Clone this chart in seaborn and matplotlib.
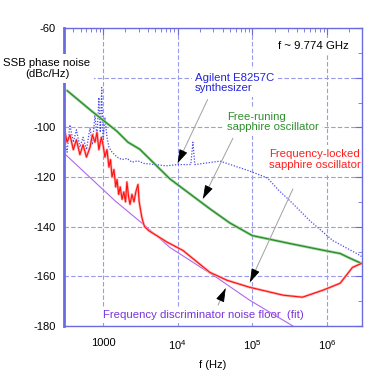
import numpy as np
import pandas as pd
import matplotlib
matplotlib.use("Agg")
import matplotlib.pyplot as plt
import seaborn as sns
from matplotlib.ticker import FixedLocator, FixedFormatter, LogLocator, MultipleLocator, NullFormatter

# ---------------- data ----------------
free_f = [330, 700, 1540, 2160, 3100, 7900, 14600, 27000, 50000, 100000, 320000,
          1000000, 1500000, 2000000, 2900000]
free_db = [-85.2, -93.4, -101.6, -106.0, -108.8, -120.8, -126.8, -132.8, -138.5,
           -143.6, -146.8, -149.8, -150.8, -152.6, -154.8]

synth_f = [300, 330, 360, 400, 440, 490, 540, 600, 670, 720, 780, 830, 880, 920, 960,
           1000, 1060, 1130, 1200, 1320, 1540, 1800, 2090, 2440, 2940, 3500, 5000,
           7000, 10000, 15000, 16000, 17000, 37000, 92000, 160000, 230000, 320000,
           590000, 1200000, 2500000, 2900000]
synth_db = [-103, -110, -99, -106, -101, -108, -104, -109, -100, -107, -95, -104, -88,
            -102, -84, -106, -96, -104, -108, -110, -112, -113, -112.5, -114, -113.5,
            -114.5, -115, -115.5, -115, -115, -106, -115, -113.6, -117.6, -120.4,
            -125.6, -129.6, -137.6, -145.6, -150.8, -152.0]

locked_f = [300, 330, 360, 400, 440, 490, 540, 600, 670, 720, 780, 830, 880, 950, 1000,
            1060, 1130, 1200, 1260, 1320, 1400, 1480, 1540, 1620, 1700, 1800, 1900,
            2000, 2090, 2200, 2300, 2440, 2600, 2750, 2940, 3050, 3130, 3300, 3430,
            3600, 4100, 5500, 7000, 11800, 27000, 46000, 92000, 260000, 470000,
            880000, 1500000, 2200000, 2900000]
locked_db = [-100, -106, -103, -109, -105, -111, -107, -112, -108, -103, -106, -102,
             -109, -104, -107, -112, -109, -116, -113, -120, -117, -124, -121, -127,
             -124, -129, -126, -130, -122, -128, -131, -127, -130, -126, -123, -130,
             -132, -136, -138, -140, -141.6, -144, -146, -149.6, -158.4, -161.6,
             -164.4, -167.6, -168.4, -165.6, -162.8, -156.4, -154.8]

floor_f = [300, 1450, 3650, 7900, 33000, 92000, 350000]
floor_db = [-110.4, -129.6, -139.6, -148.4, -160.4, -169.6, -180.0]

x_ticks = [1e3, 1e4, 1e5, 1e6]
x_tick_labels = ["1000", "$10^4$", "$10^5$", "$10^6$"]
y_ticks = [-180, -160, -140, -120, -100, -80, -60]
y_tick_labels = ["-180", "-160", "-140", "-120", "-100", "", "-60"]

# annotation arrows: (start f, start dB) -> (end f, end dB)
arrows = [((25200, -88.8), (10000, -114.4)),
          ((55000, -104.4), (21800, -128.8)),
          ((350000, -124.8), (93000, -162.4)),
          ((34700, -171.6), (44000, -164.8))]

# ---------------- style ----------------
sns.set_theme(style="white")
plt.rcParams["font.family"] = ["Liberation Sans", "DejaVu Sans"]
plt.rcParams["mathtext.fontset"] = "custom"
plt.rcParams["mathtext.rm"] = "Liberation Sans"
plt.rcParams["mathtext.it"] = "Liberation Sans:italic"

W, H = 374, 379
fig = plt.figure(figsize=(W / 100, H / 100), dpi=100)
fig.patch.set_facecolor("white")
L, R, T, B = 64, 362, 28, 326
ax = fig.add_axes([L / W, 1 - B / H, (R - L) / W, (B - T) / H])
ax.set_facecolor("white")

def px(x, y):
    return (x / W, 1 - y / H)

frame = "#6b6be0"
grid_c = "#9a9aea"

# ---------------- curves ----------------
dfree = pd.DataFrame({"f": free_f, "db": free_db})
dsyn = pd.DataFrame({"f": synth_f, "db": synth_db})
dlock = pd.DataFrame({"f": locked_f, "db": locked_db})
dfloor = pd.DataFrame({"f": floor_f, "db": floor_db})

sns.lineplot(data=dfloor, x="f", y="db", ax=ax, color="#b067f0", lw=0.8,
             estimator=None, sort=False, zorder=2)
sns.lineplot(data=dsyn, x="f", y="db", ax=ax, color="#4a4aee", lw=0.9,
             linestyle=(0, (1, 1.3)), estimator=None, sort=False, zorder=2.1)
sns.lineplot(data=dfree, x="f", y="db", ax=ax, color="#9fd49f", lw=2.0,
             estimator=None, sort=False, zorder=2.2)
sns.lineplot(data=dfree, x="f", y="db", ax=ax, color="#2a8a2a", lw=0.9,
             estimator=None, sort=False, zorder=2.3)
sns.lineplot(data=dlock, x="f", y="db", ax=ax, color="#ffa8a8", lw=1.8,
             estimator=None, sort=False, zorder=2.4)
sns.lineplot(data=dlock, x="f", y="db", ax=ax, color="#ff1010", lw=0.8,
             estimator=None, sort=False, zorder=2.5)

# ---------------- axes ----------------
ax.set_xscale("log")
ax.set_xlim(300, 2.95e6)
ax.set_ylim(-180, -60)
ax.xaxis.set_major_locator(FixedLocator(x_ticks))
ax.xaxis.set_major_formatter(FixedFormatter(x_tick_labels))
ax.xaxis.set_minor_locator(LogLocator(base=10, subs=np.arange(2, 10)))
ax.xaxis.set_minor_formatter(NullFormatter())
ax.yaxis.set_major_locator(FixedLocator(y_ticks))
ax.yaxis.set_major_formatter(FixedFormatter(y_tick_labels))
ax.yaxis.set_minor_locator(MultipleLocator(10))
ax.tick_params(which="both", direction="in", top=True, right=True, color=frame,
               labelsize=8, labelcolor="black")
ax.tick_params(which="major", length=5, width=0.8)
ax.tick_params(which="minor", length=3, width=0.6)
ax.tick_params(axis="x", pad=9)
ax.tick_params(axis="y", pad=6)
for s in ax.spines.values():
    s.set_color(frame)
    s.set_linewidth(1.0)
ax.spines["left"].set_linewidth(2.0)
ax.set_axisbelow(True)
ax.grid(True, which="major", color=grid_c, linestyle=(0, (4, 2)), lw=0.8)
ax.set_xlabel("f (Hz)", fontsize=8, color="black")
ax.set_ylabel("")
ax.xaxis.set_label_coords(0.5, -(365 - B) / (B - T))
ax.xaxis.label.set_va("center")

# ---------------- arrows ----------------
fig.canvas.draw()
for (s, e) in arrows:
    ax.annotate("", xy=e, xytext=s, xycoords="data", textcoords="data",
                arrowprops=dict(arrowstyle="-", color="#a0a0a0", lw=0.7,
                                shrinkA=0, shrinkB=0), zorder=3)
    ps = ax.transData.transform(s)
    pe = ax.transData.transform(e)
    d = (pe - ps) / np.hypot(*(pe - ps))
    ax.annotate("", xy=e, xycoords="data",
                xytext=(-d[0] * 8, -d[1] * 8), textcoords="offset pixels",
                arrowprops=dict(arrowstyle="-|>,head_length=0.7,head_width=0.22",
                                color="black", lw=0.6, shrinkA=0, shrinkB=0),
                zorder=3.1)

# ---------------- texts ----------------
box = dict(facecolor="white", edgecolor="none", pad=2.5)
fs = 8.2
ax.text(*px(313, 46), "f ~ 9.774 GHz", transform=fig.transFigure, fontsize=fs,
        ha="center", va="center", color="black", bbox=box, zorder=1.5)
ax.text(*px(195, 83), "Agilent E8257C\nsynthesizer", transform=fig.transFigure,
        fontsize=fs, ha="left", va="center", color="#2424dc", linespacing=1.1,
        bbox=box, zorder=1.5)
ax.text(*px(227, 122), "Free-runing\nsapphire oscillator", transform=fig.transFigure,
        fontsize=fs, ha="left", va="center", color="#2f8f2f", linespacing=1.1,
        bbox=box, zorder=1.5)
ax.text(*px(269, 159.5), "Frequency-locked\nsapphire oscillator",
        transform=fig.transFigure, fontsize=fs, ha="left", va="center",
        color="#ff1e1e", linespacing=1.15, bbox=box, zorder=1.5)
ax.text(*px(103, 315), "Frequency discriminator noise floor  (fit)",
        transform=fig.transFigure, fontsize=fs, ha="left", va="center",
        color="#7a33dd", bbox=box, zorder=1.5)
fig.text(*px(47, 68.5), "SSB phase noise\n(dBc/Hz)", fontsize=fs, ha="center",
         va="center", multialignment="center", color="black", linespacing=1.15,
         bbox=dict(facecolor="white", edgecolor="none", pad=2.5), zorder=5)

fig.savefig("out.png", dpi=100, facecolor="white")
